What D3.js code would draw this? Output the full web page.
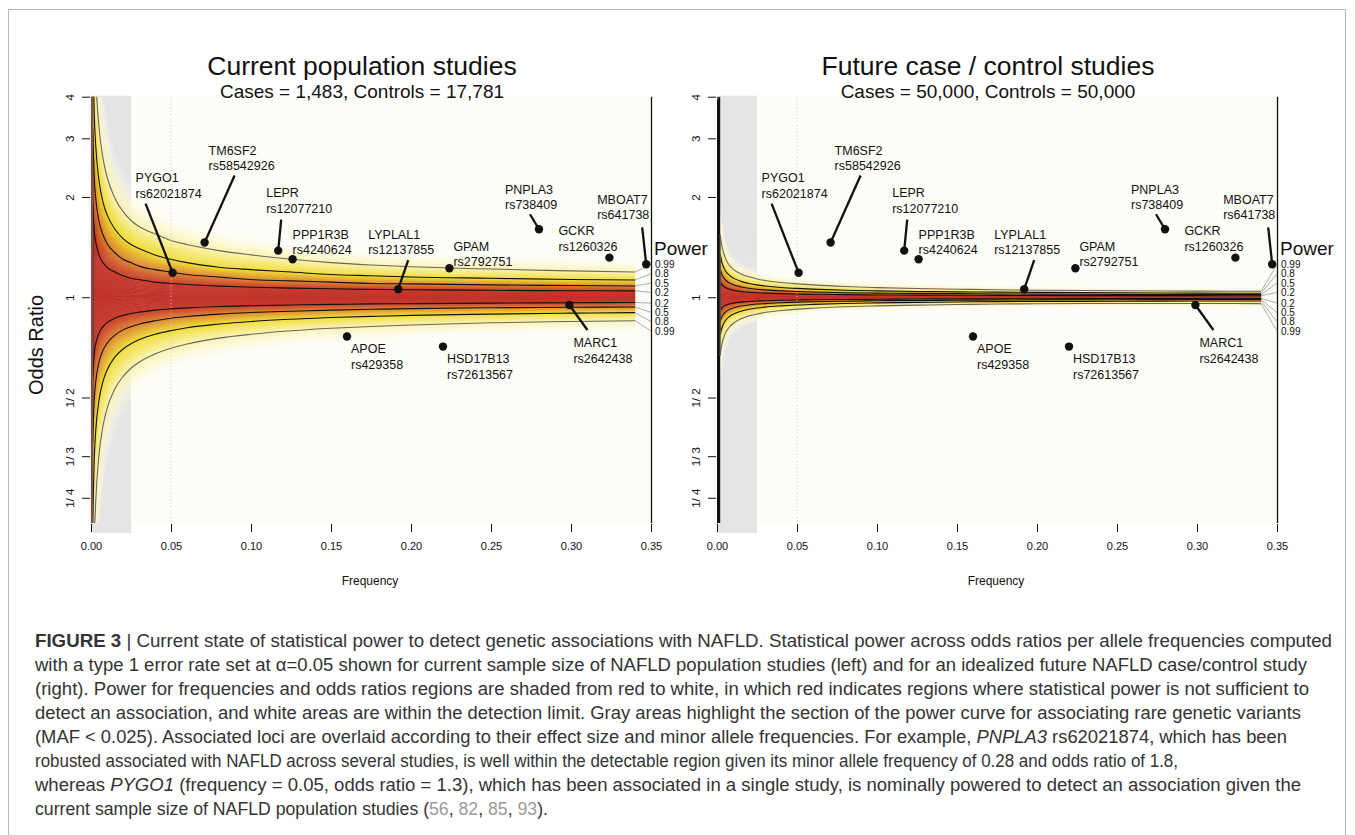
<!DOCTYPE html>
<html>
<head>
<meta charset="utf-8">
<script src="https://cdn.jsdelivr.net/npm/d3@7"></script>
<style>
  body { margin: 0; background: #fff; }
  svg { display: block; }
</style>
</head>
<body>
<div id="chart"></div>
<script>
// ---- data ----

// allele frequency grid of the contour lines
const leftFreqs = [0.001, 0.002, 0.003, 0.005, 0.0075, 0.01, 0.015, 0.02, 0.025, 0.03, 0.04, 0.05, 0.06, 0.08, 0.10, 0.125, 0.15, 0.175, 0.20, 0.25, 0.30, 0.34];
const rightFreqs = [0.002, 0.003, 0.005, 0.0075, 0.01, 0.015, 0.02, 0.025, 0.03, 0.04, 0.05, 0.06, 0.08, 0.10, 0.125, 0.15, 0.175, 0.20, 0.25, 0.30, 0.34];

// power contours (odds ratio at each frequency), current population studies
const leftUpper20 = [1.93, 1.59, 1.46, 1.34, 1.27, 1.23, 1.19, 1.16, 1.14, 1.13, 1.11, 1.10, 1.092, 1.080, 1.072, 1.065, 1.060, 1.056, 1.053, 1.049, 1.046, 1.045];
const leftUpper50 = [3.22, 2.29, 1.97, 1.69, 1.54, 1.45, 1.36, 1.30, 1.27, 1.24, 1.21, 1.19, 1.17, 1.15, 1.13, 1.12, 1.11, 1.10, 1.097, 1.089, 1.084, 1.081];
const leftUpper80 = [6.03, 3.57, 2.83, 2.24, 1.93, 1.77, 1.60, 1.50, 1.44, 1.40, 1.34, 1.30, 1.27, 1.23, 1.21, 1.19, 1.17, 1.16, 1.15, 1.14, 1.13, 1.127];
const leftUpper99 = [13.8, 6.39, 4.55, 3.24, 2.61, 2.30, 1.98, 1.81, 1.70, 1.63, 1.55, 1.48, 1.44, 1.38, 1.34, 1.30, 1.27, 1.25, 1.235, 1.215, 1.20, 1.19];
const leftLower20 = [0.575, 0.676, 0.726, 0.780, 0.816, 0.839, 0.866, 0.882, 0.894, 0.902, 0.915, 0.923, 0.929, 0.938, 0.943, 0.948, 0.952, 0.955, 0.957, 0.960, 0.963, 0.964];
const leftLower50 = [0.367, 0.492, 0.560, 0.638, 0.693, 0.727, 0.770, 0.798, 0.816, 0.830, 0.850, 0.865, 0.875, 0.890, 0.900, 0.908, 0.915, 0.920, 0.924, 0.930, 0.933, 0.935];
const leftLower80 = [0.204, 0.325, 0.399, 0.491, 0.559, 0.604, 0.662, 0.699, 0.725, 0.745, 0.774, 0.794, 0.810, 0.831, 0.846, 0.859, 0.869, 0.876, 0.882, 0.890, 0.896, 0.899];
const leftLower99 = [0.088, 0.180, 0.246, 0.337, 0.411, 0.463, 0.532, 0.578, 0.612, 0.638, 0.676, 0.703, 0.724, 0.754, 0.774, 0.793, 0.807, 0.817, 0.825, 0.838, 0.846, 0.850];

// power contours, future case / control studies
const rightUpper20 = [1.115, 1.093, 1.071, 1.058, 1.050, 1.041, 1.035, 1.032, 1.029, 1.025, 1.023, 1.021, 1.018, 1.016, 1.015, 1.014, 1.013, 1.012, 1.011, 1.011, 1.010];
const rightUpper50 = [1.214, 1.171, 1.131, 1.105, 1.091, 1.074, 1.064, 1.057, 1.052, 1.045, 1.040, 1.037, 1.032, 1.029, 1.027, 1.025, 1.023, 1.022, 1.020, 1.019, 1.018];
const rightUpper80 = [1.347, 1.275, 1.208, 1.167, 1.143, 1.116, 1.100, 1.089, 1.081, 1.070, 1.063, 1.058, 1.050, 1.045, 1.041, 1.038, 1.036, 1.034, 1.031, 1.029, 1.028];
const rightUpper99 = [1.54, 1.43, 1.32, 1.25, 1.215, 1.175, 1.152, 1.135, 1.123, 1.107, 1.097, 1.089, 1.077, 1.069, 1.062, 1.057, 1.053, 1.050, 1.046, 1.043, 1.042];
const rightLower20 = [0.912, 0.928, 0.944, 0.954, 0.960, 0.967, 0.971, 0.974, 0.976, 0.979, 0.981, 0.983, 0.985, 0.986, 0.988, 0.989, 0.989, 0.990, 0.991, 0.991, 0.991];
const rightLower50 = [0.847, 0.873, 0.900, 0.918, 0.928, 0.941, 0.948, 0.954, 0.957, 0.963, 0.967, 0.969, 0.973, 0.976, 0.978, 0.979, 0.981, 0.982, 0.983, 0.984, 0.984];
const rightLower80 = [0.770, 0.807, 0.847, 0.873, 0.889, 0.908, 0.920, 0.928, 0.934, 0.942, 0.948, 0.952, 0.958, 0.962, 0.965, 0.968, 0.970, 0.971, 0.973, 0.974, 0.974];
const rightLower99 = [0.668, 0.720, 0.775, 0.811, 0.834, 0.862, 0.879, 0.891, 0.900, 0.912, 0.921, 0.927, 0.936, 0.942, 0.947, 0.951, 0.954, 0.956, 0.958, 0.958, 0.957];

const powerLevels = [0.2, 0.5, 0.8, 0.99];
const powerLabels = ["0.99", "0.8", "0.5", "0.2", "0.2", "0.5", "0.8", "0.99"];

// associated loci
const lociGenes = ["PYGO1", "TM6SF2", "LEPR", "PPP1R3B", "LYPLAL1", "GPAM", "PNPLA3", "GCKR", "MBOAT7", "APOE", "HSD17B13", "MARC1"];
const lociSnps = ["rs62021874", "rs58542926", "rs12077210", "rs4240624", "rs12137855", "rs2792751", "rs738409", "rs1260326", "rs641738", "rs429358", "rs72613567", "rs2642438"];
const lociFreq = [0.051, 0.071, 0.117, 0.126, 0.192, 0.224, 0.280, 0.324, 0.347, 0.160, 0.220, 0.299];
const lociOR = [1.185, 1.46, 1.38, 1.30, 1.057, 1.222, 1.60, 1.315, 1.256, 0.762, 0.711, 0.948];

// axes
const xTicks = [0, 0.05, 0.10, 0.15, 0.20, 0.25, 0.30, 0.35];
const yTicks = [1 / 4, 1 / 3, 1 / 2, 1, 2, 3, 4];
const yTickLabels = ["1/ 4", "1/ 3", "1/ 2", "1", "2", "3", "4"];

// label placement for the loci (pixel offsets from the point: text, leader start)
const lociLayout = [
  [-37, -95, -27, -69], [4, -92, 30, -67], [-12, -58, 3, -31], [0, -25, null, null],
  [-30, -55, 10, -29], [4, -22, null, null], [-34, -40, -9, -15], [-51, -27, null, null],
  [-49, -65, -4, -37], [4, 12, null, null], [4, 12, null, null], [4, 38, 18, 25]
];

const panels = [
  { title: "Current population studies", subtitle: "Cases = 1,483, Controls = 17,781", xr: [91, 651],
    freqs: leftFreqs, upper: [leftUpper20, leftUpper50, leftUpper80, leftUpper99],
    lower: [leftLower20, leftLower50, leftLower80, leftLower99], yLabel: true },
  { title: "Future case / control studies", subtitle: "Cases = 50,000, Controls = 50,000", xr: [717, 1277],
    freqs: rightFreqs, upper: [rightUpper20, rightUpper50, rightUpper80, rightUpper99],
    lower: [rightLower20, rightLower50, rightLower80, rightLower99], yLabel: false }
];

// ---- drawing ----
const W = 1355, H = 835;
const plotTop = 96.7, plotBottom = 523;
const font = "'Liberation Sans', Arial, Helvetica, sans-serif";

const svg = d3.select("#chart").append("svg")
  .attr("width", W).attr("height", H)
  .style("font-family", font);

const defs = svg.append("defs");
const pat = defs.append("pattern").attr("id", "dots")
  .attr("width", 4).attr("height", 4).attr("patternUnits", "userSpaceOnUse");
pat.append("rect").attr("width", 4).attr("height", 4).attr("fill", "#ffffff");
pat.append("rect").attr("width", 1.2).attr("height", 1.2).attr("fill", "#f6f6d8");
pat.append("rect").attr("x", 2).attr("y", 2).attr("width", 1.2).attr("height", 1.2).attr("fill", "#f6f6d8");

// figure frame
svg.append("path").attr("d", "M8.5,835 V9.5 H1345.5 V835")
  .attr("fill", "none").attr("stroke", "#b5b5b5").attr("stroke-width", 1);

const color = d3.scaleLinear()
  .domain([0, 0.2, 0.5, 0.8, 0.99, 1])
  .range(["#c0302a", "#c7392b", "#dc8232", "#efdc36", "#fbf3b0", "#ffffff"]);

const y = d3.scaleLog().domain([0.21, 4]).range([plotBottom, plotTop]);

panels.forEach((p, pi) => {
  const x = d3.scaleLinear().domain([0, 0.35]).range(p.xr);
  const g = svg.append("g");
  const clipId = "clip" + pi;
  defs.append("clipPath").attr("id", clipId).append("rect")
    .attr("x", x(0)).attr("y", plotTop).attr("width", x(0.35) - x(0)).attr("height", plotBottom - plotTop);

  // background + rare variant zone
  g.append("rect").attr("x", x(0)).attr("y", plotTop)
    .attr("width", x(0.35) - x(0)).attr("height", plotBottom - plotTop).attr("fill", "url(#dots)");
  g.append("rect").attr("x", x(0)).attr("y", plotTop - 1)
    .attr("width", x(0.025) - x(0)).attr("height", 533 - plotTop + 1).attr("fill", "#e5e5e5");

  const heat = g.append("g").attr("clip-path", `url(#${clipId})`);
  const fr = p.freqs;
  const ones = fr.map(() => 1);
  const pw = [0].concat(powerLevels, [1]);

  function bands(levels, fadeFactor) {
    const fade = levels[levels.length - 1].map(v => Math.exp(Math.log(v) * fadeFactor));
    const all = levels.concat([fade]);
    for (let k = 0; k < all.length - 1; k++) {
      const inner = all[k], outer = all[k + 1];
      const S = 14;
      for (let s = 0; s < S; s++) {
        const t0 = s / S, t1 = (s + 1) / S;
        const at = t => inner.map((v, i) => Math.exp(Math.log(v) + (Math.log(outer[i]) - Math.log(v)) * t));
        const a0 = at(t0), a1 = at(t1);
        const area = d3.area()
          .x((d, i) => x(fr[i]))
          .y0((d, i) => y(a0[i]))
          .y1((d, i) => y(a1[i]))
          .curve(d3.curveMonotoneX);
        const tm = (t0 + t1) / 2;
        const c = color(pw[k] + (pw[k + 1] - pw[k]) * tm);
        heat.append("path").datum(fr).attr("d", area)
          .attr("fill", c).attr("stroke", c).attr("stroke-width", 0.6)
          .attr("opacity", k === all.length - 2 ? 1 - tm : 1);
      }
    }
  }
  bands([ones].concat(p.upper), 1.5);
  bands([ones].concat(p.lower), 1.5);

  // first grid column
  heat.append("rect").attr("x", x(0)).attr("y", plotTop)
    .attr("width", x(fr[0]) - x(0)).attr("height", plotBottom - plotTop)
    .attr("fill", pi === 0 ? "#c0302a" : "#111");
  if (pi === 1) {
    heat.append("rect").attr("x", x(0)).attr("y", plotTop)
      .attr("width", 1.5).attr("height", 3).attr("fill", "#d0302a");
  }

  // contour lines
  const line = d3.line().x(d => x(d[0])).y(d => y(d[1]));
  const lineX = d3.line().x(d => x(d[0])).y(d => y(d[1])).curve(d3.curveMonotoneX);
  powerLevels.forEach((lv, li) => {
    const up = fr.map((f, i) => [f, p.upper[li][i]]);
    const lo = fr.map((f, i) => [f, p.lower[li][i]]);
    const stroke = lv === 0.99 ? "#666" : "#111";
    [up, lo].forEach(pts => {
      heat.append("path").attr("d", lineX(pts)).attr("fill", "none")
        .attr("stroke", stroke).attr("stroke-width", 1.1);
    });
    heat.append("path").attr("d", line([up[0], lo[0]])).attr("fill", "none")
      .attr("stroke", stroke).attr("stroke-width", 1.1);
  });

  // dotted line at 0.05
  g.append("line").attr("x1", x(0.05)).attr("x2", x(0.05))
    .attr("y1", plotTop).attr("y2", plotBottom)
    .attr("stroke", "#c8c8c8").attr("stroke-width", 1).attr("stroke-dasharray", "1,2.5");

  // right edge line
  g.append("line").attr("x1", x(0.35) + 0.5).attr("x2", x(0.35) + 0.5)
    .attr("y1", plotTop).attr("y2", plotBottom)
    .attr("stroke", "#111").attr("stroke-width", 1.3);

  // power connectors and labels
  const lastI = fr.length - 1;
  const ends = [p.upper[3], p.upper[2], p.upper[1], p.upper[0], p.lower[0], p.lower[1], p.lower[2], p.lower[3]]
    .map(a => a[lastI]);
  const labX = x(0.35) + 4;
  powerLabels.forEach((lab, i) => {
    const ly = 264.5 + i * 9.3 + (i >= 4 ? 1.4 : 0);
    g.append("line").attr("x1", x(fr[lastI])).attr("y1", y(ends[i]))
      .attr("x2", x(0.35)).attr("y2", ly)
      .attr("stroke", "#8a8a8a").attr("stroke-width", 0.7);
    g.append("text").attr("x", labX).attr("y", ly + 3.6)
      .attr("font-size", 10).attr("fill", "#111").text(lab);
  });
  g.append("text").attr("x", labX - 1).attr("y", 255)
    .attr("font-size", 19).attr("fill", "#111").text("Power");

  // loci
  lociGenes.forEach((gene, i) => {
    const px = x(lociFreq[i]), py = y(lociOR[i]);
    const [dx, dy, lx, ly] = lociLayout[i];
    if (lx !== null) {
      g.append("line").attr("x1", px + lx).attr("y1", py + ly).attr("x2", px).attr("y2", py)
        .attr("stroke", "#111").attr("stroke-width", 2.3);
    }
    g.append("circle").attr("cx", px).attr("cy", py).attr("r", 4.2).attr("fill", "#111");
    g.append("text").attr("x", px + dx).attr("y", py + dy + 4.5)
      .attr("font-size", 12.5).attr("fill", "#111").text(gene);
    g.append("text").attr("x", px + dx).attr("y", py + dy + 20)
      .attr("font-size", 12.5).attr("fill", "#111").text(lociSnps[i]);
  });

  // x axis (ticks only)
  const xa = g.append("g").attr("transform", `translate(0,${plotBottom + 1})`)
    .call(d3.axisBottom(x).tickValues(xTicks).tickFormat(d3.format(".2f")).tickSize(8).tickPadding(10));
  xa.select(".domain").remove();
  xa.selectAll("line").attr("stroke", "#111");
  xa.selectAll("text").attr("font-size", 11).attr("font-family", font).attr("fill", "#111");

  // y axis
  const ya = g.append("g").attr("transform", `translate(${x(0) - 1},0)`)
    .call(d3.axisLeft(y).tickValues(yTicks).tickFormat((d, i) => yTickLabels[i]).tickSize(8));
  ya.select(".domain").remove();
  ya.selectAll("line").attr("stroke", "#111");
  ya.selectAll("text")
    .attr("transform", "rotate(-90)").attr("x", 0).attr("y", -16).attr("dy", 0)
    .attr("text-anchor", "middle").attr("font-size", 11.5).attr("font-family", font).attr("fill", "#111");

  const mid = (p.xr[0] + p.xr[1]) / 2;
  g.append("text").attr("x", mid - 9).attr("y", 75).attr("text-anchor", "middle")
    .attr("font-size", 26.5).attr("fill", "#111").text(p.title);
  g.append("text").attr("x", mid - 9).attr("y", 98).attr("text-anchor", "middle")
    .attr("font-size", 19).attr("fill", "#111").text(p.subtitle);
  g.append("text").attr("x", mid - 1).attr("y", 585).attr("text-anchor", "middle")
    .attr("font-size", 12).attr("fill", "#111").text("Frequency");

  if (p.yLabel) {
    g.append("text").attr("transform", "translate(43,345) rotate(-90)")
      .attr("text-anchor", "middle").attr("font-size", 20).attr("fill", "#111").text("Odds Ratio");
  }
});

// ---- caption ----
const captionLines = [
  [{ t: "FIGURE 3", b: 1 }, { t: " | Current state of statistical power to detect genetic associations with NAFLD. Statistical power across odds ratios per allele frequencies computed" }],
  [{ t: "with a type 1 error rate set at α=0.05 shown for current sample size of NAFLD population studies (left) and for an idealized future NAFLD case/control study" }],
  [{ t: "(right). Power for frequencies and odds ratios regions are shaded from red to white, in which red indicates regions where statistical power is not sufficient to" }],
  [{ t: "detect an association, and white areas are within the detection limit. Gray areas highlight the section of the power curve for associating rare genetic variants" }],
  [{ t: "(MAF < 0.025). Associated loci are overlaid according to their effect size and minor allele frequencies. For example, " }, { t: "PNPLA3", i: 1 }, { t: " rs62021874, which has been" }],
  [{ t: "robusted associated with NAFLD across several studies, is well within the detectable region given its minor allele frequency of 0.28 and odds ratio of 1.8," }],
  [{ t: "whereas " }, { t: "PYGO1", i: 1 }, { t: " (frequency = 0.05, odds ratio = 1.3), which has been associated in a single study, is nominally powered to detect an association given the" }],
  [{ t: "current sample size of NAFLD population studies (" }, { t: "56", g: 1 }, { t: ", " }, { t: "82", g: 1 }, { t: ", " }, { t: "85", g: 1 }, { t: ", " }, { t: "93", g: 1 }, { t: ")." }]
];
const captionEnds = [1332, 1307, 1309, 1301, 1287, 1178, 1301, 548];

captionLines.forEach((segs, li) => {
  const t = svg.append("text")
    .attr("x", 35).attr("y", 647 + li * 24)
    .attr("font-family", "'Liberation Sans', Arial, sans-serif")
    .attr("font-size", 17.5).attr("fill", "#333")
    .attr("textLength", captionEnds[li] - 35).attr("lengthAdjust", "spacingAndGlyphs");
  segs.forEach(s => {
    t.append("tspan").text(s.t)
      .attr("font-weight", s.b ? "bold" : null)
      .attr("font-style", s.i ? "italic" : null)
      .attr("fill", s.g ? "#9a9a9a" : null);
  });
});
</script>
</body>
</html>
